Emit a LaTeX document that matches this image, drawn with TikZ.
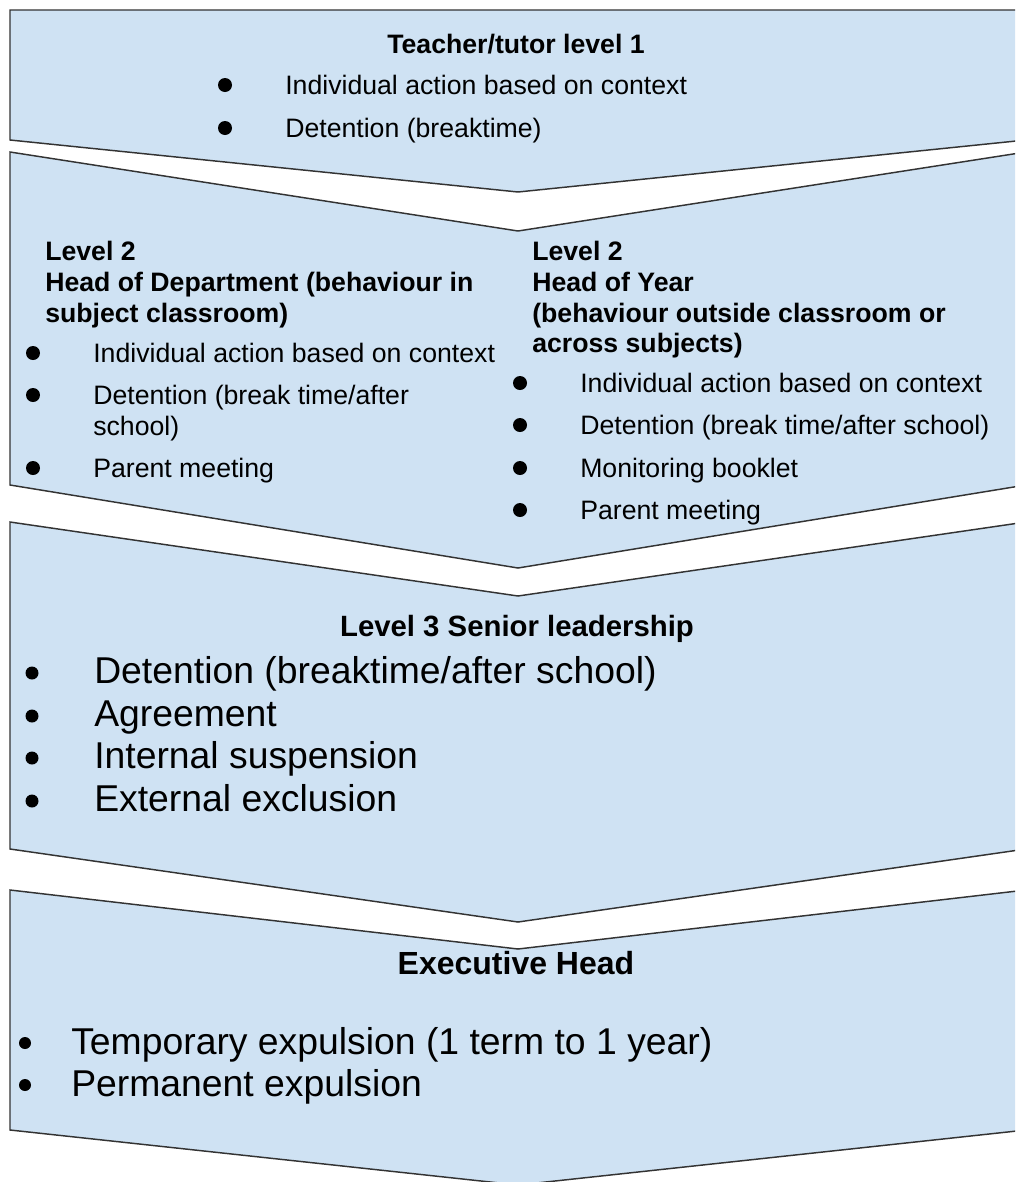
\documentclass[tikz,border=0pt]{standalone}
\usepackage{fontspec}
\setmainfont{Liberation Sans}
\definecolor{chevfill}{HTML}{CFE2F3}
\definecolor{chevline}{HTML}{333333}
\begin{document}
\begin{tikzpicture}[x=0.75pt,y=-0.75pt,
  chev/.style={draw=chevline, fill=chevfill, line width=1.1pt, line join=miter},
  small/.style={font=\fontsize{20}{23}\selectfont, inner sep=0pt, anchor=base west},
  smallb/.style={font=\fontsize{20}{23}\selectfont\bfseries, inner sep=0pt, anchor=base west},
  bigitem/.style={font=\fontsize{28}{32}\selectfont, inner sep=0pt, anchor=base west},
  headthree/.style={font=\fontsize{22}{25}\selectfont\bfseries, inner sep=0pt, anchor=base},
  headfour/.style={font=\fontsize{24}{28}\selectfont\bfseries, inner sep=0pt, anchor=base},
  headone/.style={font=\fontsize{20}{23}\selectfont\bfseries, inner sep=0pt, anchor=base}]
\useasboundingbox (0,0) rectangle (1015,1182);
\clip (0,0) rectangle (1015,1182);
\fill[white] (0,0) rectangle (1015,1182);
% chevrons
\draw[chev] (10,10) -- (1026,10) -- (1026,140) -- (518,192) -- (10,140) -- cycle;
\draw[chev] (10,152) -- (518,231) -- (1026,152) -- (1026,485) -- (518,568) -- (10,485) -- cycle;
\draw[chev] (10,522) -- (518,596) -- (1026,522) -- (1026,849) -- (518,922) -- (10,849) -- cycle;
\draw[chev] (10,890) -- (518,949) -- (1026,890) -- (1026,1130) -- (518,1185) -- (10,1130) -- cycle;
% level 1
\node[headone] (h1) at (516,53) {Teacher/tutor level 1};
\fill (225,85) circle (7);
\fill (225,128) circle (7);
\node[small] (a1) at (285,94) {Individual action based on context};
\node[small] (a2) at (285,137) {Detention (breaktime)};
% level 2 left
\node[smallb] (hl1) at (45,260) {Level 2};
\node[smallb] (hl2) at (45,291) {Head of Department (behaviour in};
\node[smallb] (hl3) at (45,322) {subject classroom)};
\fill (33,353) circle (7);
\fill (33,395) circle (7);
\fill (33,468) circle (7);
\node[small] (bl1) at (93,362) {Individual action based on context};
\node[small] (bl2) at (93,404) {Detention (break time/after};
\node[small] (bl3) at (93,435) {school)};
\node[small] (bl4) at (93,477) {Parent meeting};
% level 2 right
\node[smallb] (hr1) at (532,260) {Level 2};
\node[smallb] (hr2) at (532,291) {Head of Year};
\node[smallb] (hr3) at (532,322) {(behaviour outside classroom or};
\node[smallb] (hr4) at (532,352) {across subjects)};
\fill (520,383) circle (7);
\fill (520,425) circle (7);
\fill (520,468) circle (7);
\fill (520,510) circle (7);
\node[small] (br1) at (580,392) {Individual action based on context};
\node[small] (br2) at (580,434) {Detention (break time/after school)};
\node[small] (br3) at (580,477) {Monitoring booklet};
\node[small] (br4) at (580,519) {Parent meeting};
% level 3
\node[headthree] (h3) at (517,636) {Level 3 Senior leadership};
\fill (32,673) circle (6.5);
\fill (32,716) circle (6.5);
\fill (32,758) circle (6.5);
\fill (32,801) circle (6.5);
\node[bigitem] (c1) at (94,683) {Detention (breaktime/after school)};
\node[bigitem] (c2) at (94,726) {Agreement};
\node[bigitem] (c3) at (94,768) {Internal suspension};
\node[bigitem] (c4) at (94,811) {External exclusion};
% level 4
\node[headfour] (h4) at (516,974) {Executive Head};
\fill (25,1043) circle (6);
\fill (25,1085) circle (6);
\node[bigitem] (d1) at (71,1054) {Temporary expulsion (1 term to 1 year)};
\node[bigitem] (d2) at (71,1096) {Permanent expulsion};
\end{tikzpicture}
\end{document}
